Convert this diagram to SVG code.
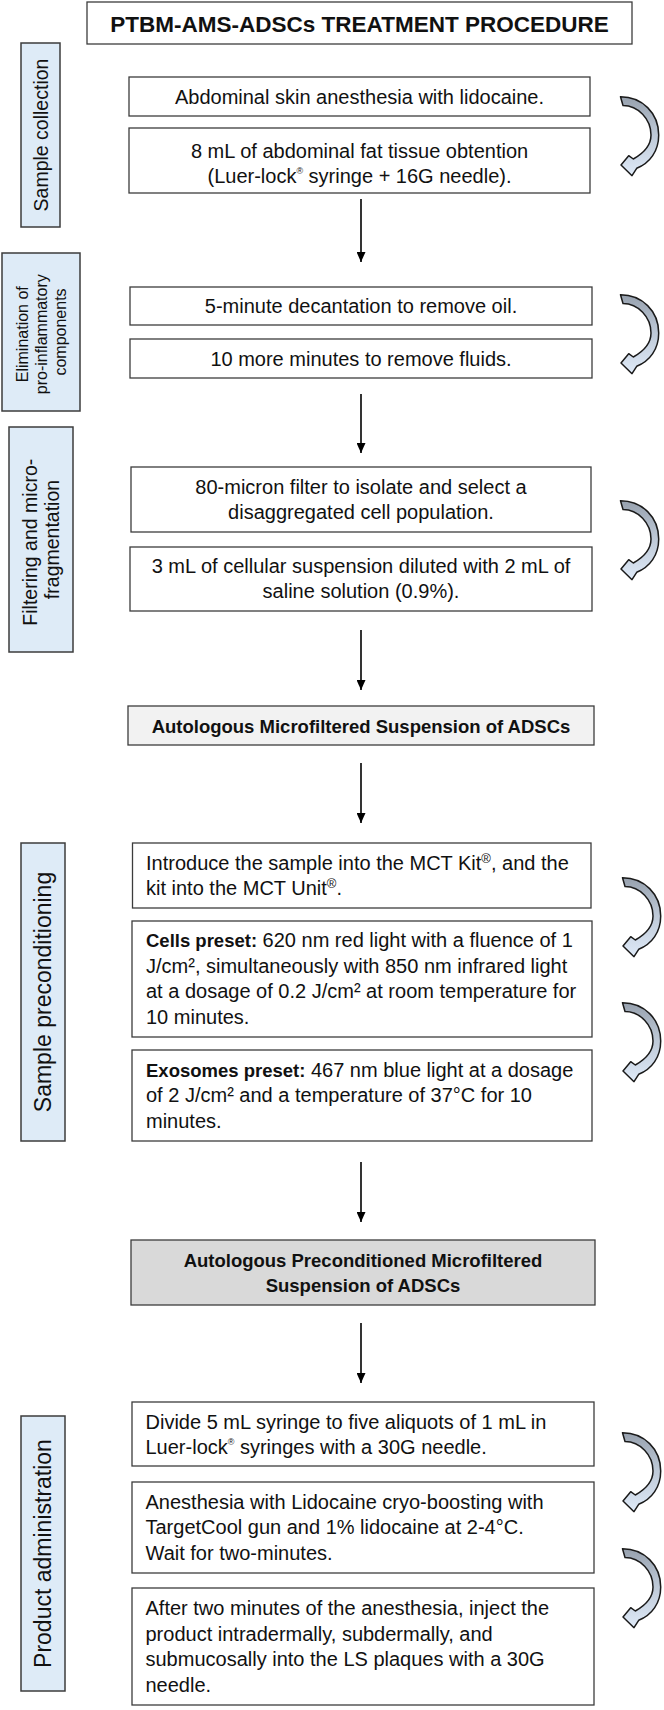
<svg xmlns="http://www.w3.org/2000/svg" width="664" height="1710" viewBox="0 0 664 1710">
<style>
  .bg{fill:#ffffff}
  .box{fill:#ffffff;stroke:#3c3c3c;stroke-width:1.3}
  .lbl{fill:#deebf7;stroke:#3c3c3c;stroke-width:1.5}
  .g1{fill:#f2f2f2;stroke:#3c3c3c;stroke-width:1.3}
  .g2{fill:#d9d9d9;stroke:#3c3c3c;stroke-width:1.3}
  text{font-family:"Liberation Sans",Arial,sans-serif;fill:#111111}
  .t{font-size:20px}
  .c{text-anchor:middle}
  .b{font-weight:bold}
  .bb{font-weight:bold;font-size:18.5px}
  .title{font-size:22.5px;font-weight:bold;text-anchor:middle}
  .lt{text-anchor:middle}
  .conn line{stroke:#000000;stroke-width:1.6;fill:none}
  .curve{fill:url(#cg);stroke:#1a1a1a;stroke-width:1.5;stroke-linejoin:round}
</style>
<defs>
  <marker id="ah" markerUnits="userSpaceOnUse" markerWidth="10" markerHeight="9" refX="10" refY="4.5" orient="auto">
    <path d="M0,0 L10,4.5 L0,9 Z" fill="#000000"/>
  </marker>
  <linearGradient id="cg" x1="0" y1="0" x2="0" y2="1">
    <stop offset="0" stop-color="#97a1ae"/>
    <stop offset="0.45" stop-color="#bcc7d5"/>
    <stop offset="1" stop-color="#dfeaf8"/>
  </linearGradient>
  <path id="carrow" class="curve" d="M 0.5,1.7 C 22,1.7 38.7,18 38.7,40 C 38.7,56 30,68 16.7,73.3 L 12,80.7 L 1,70 L 8.7,60.7 L 13.3,64 C 24,58 31,50 31,40 C 31,24 18,10.5 3,10.5 Z"/>
</defs>
<rect class="bg" x="0" y="0" width="664" height="1710"/>

<g id="title">
  <rect class="box" x="87" y="2" width="545" height="42"/>
  <text class="title" x="359.5" y="31.5">PTBM-AMS-ADSCs TREATMENT PROCEDURE</text>
</g>

<g id="label-sample-collection">
  <rect class="lbl" x="21" y="43" width="39" height="184"/>
  <text class="lt" font-size="19.5" transform="translate(40.5,135) rotate(-90)" x="0" y="7">Sample collection</text>
</g>
<g id="label-elimination">
  <rect class="lbl" x="2" y="253" width="78" height="158"/>
  <text class="lt" font-size="16" transform="translate(41,332) rotate(-90)">
    <tspan x="0" y="-13.3">Elimination of</tspan>
    <tspan x="0" y="5.7">pro-inflammatory</tspan>
    <tspan x="0" y="24.7">components</tspan>
  </text>
</g>
<g id="label-filtering">
  <rect class="lbl" x="9" y="427" width="64" height="225"/>
  <text class="lt" font-size="19.5" transform="translate(41,539.5) rotate(-90)">
    <tspan x="0" y="-4.3">Filtering and micro-</tspan>
    <tspan x="0" y="18.2">fragmentation</tspan>
  </text>
</g>
<g id="label-preconditioning">
  <rect class="lbl" x="21" y="843" width="44" height="298"/>
  <text class="lt" font-size="23" transform="translate(43,992) rotate(-90)" x="0" y="8.2">Sample preconditioning</text>
</g>
<g id="label-administration">
  <rect class="lbl" x="21" y="1416" width="44" height="275"/>
  <text class="lt" font-size="23" transform="translate(43,1553.5) rotate(-90)" x="0" y="8.2">Product administration</text>
</g>

<g id="step-a1">
  <rect class="box" x="129" y="77" width="461" height="39"/>
  <text class="t c" x="359.5" y="104">Abdominal skin anesthesia with lidocaine.</text>
</g>
<g id="step-a2">
  <rect class="box" x="129" y="128" width="461" height="65"/>
  <text class="t c" x="359.5" y="157.5">8 mL of abdominal fat tissue obtention</text>
  <text class="t c" x="359.5" y="183">(Luer-lock<tspan font-size="9" dy="-9">®</tspan><tspan dy="9"> syringe + 16G needle).</tspan></text>
</g>
<g id="step-b1">
  <rect class="box" x="130" y="287" width="462" height="38"/>
  <text class="t c" x="361" y="313">5-minute decantation to remove oil.</text>
</g>
<g id="step-b2">
  <rect class="box" x="130" y="339" width="462" height="39"/>
  <text class="t c" x="361" y="365.5">10 more minutes to remove fluids.</text>
</g>
<g id="step-c1">
  <rect class="box" x="131" y="467" width="460" height="65"/>
  <text class="t c" x="361" y="493.5">80-micron filter to isolate and select a</text>
  <text class="t c" x="361" y="519">disaggregated cell population.</text>
</g>
<g id="step-c2">
  <rect class="box" x="130" y="547" width="462" height="64"/>
  <text class="t c" x="361" y="572.5">3 mL of cellular suspension diluted with 2 mL of</text>
  <text class="t c" x="361" y="598">saline solution (0.9%).</text>
</g>
<g id="result-amsadscs">
  <rect class="g1" x="128" y="706" width="466" height="39"/>
  <text class="bb c" x="361" y="732.5">Autologous Microfiltered Suspension of ADSCs</text>
</g>
<g id="step-e1">
  <rect class="box" x="132.5" y="843" width="458.5" height="65"/>
  <text class="t" x="146" y="870">Introduce the sample into the MCT Kit<tspan font-size="13" dy="-7">®</tspan><tspan dy="7">, and the</tspan></text>
  <text class="t" x="146" y="895">kit into the MCT Unit<tspan font-size="13" dy="-7">®</tspan><tspan dy="7">.</tspan></text>
</g>
<g id="step-e2">
  <rect class="box" x="132" y="921" width="460" height="116"/>
  <text class="t" x="146" y="947"><tspan class="b" font-size="18.5">Cells preset:</tspan> 620 nm red light with a fluence of 1</text>
  <text class="t" x="146" y="972.5">J/cm², simultaneously with 850 nm infrared light</text>
  <text class="t" x="146" y="998">at a dosage of 0.2 J/cm² at room temperature for</text>
  <text class="t" x="146" y="1023.5">10 minutes.</text>
</g>
<g id="step-e3">
  <rect class="box" x="132" y="1050" width="460" height="91"/>
  <text class="t" x="146" y="1076.5"><tspan class="b" font-size="18.5">Exosomes preset:</tspan> 467 nm blue light at a dosage</text>
  <text class="t" x="146" y="1102">of 2 J/cm² and a temperature of 37°C for 10</text>
  <text class="t" x="146" y="1127.5">minutes.</text>
</g>
<g id="result-apmsadscs">
  <rect class="g2" x="131" y="1240" width="464" height="65"/>
  <text class="bb c" x="363" y="1266.5">Autologous Preconditioned Microfiltered</text>
  <text class="bb c" x="363" y="1292">Suspension of ADSCs</text>
</g>
<g id="step-g1">
  <rect class="box" x="132" y="1402" width="462" height="64"/>
  <text class="t" x="145.5" y="1428.5">Divide 5 mL syringe to five aliquots of 1 mL in</text>
  <text class="t" x="145.5" y="1453.5">Luer-lock<tspan font-size="9" dy="-9">®</tspan><tspan dy="9"> syringes with a 30G needle.</tspan></text>
</g>
<g id="step-g2">
  <rect class="box" x="132" y="1482" width="462" height="91"/>
  <text class="t" x="145.5" y="1508.5">Anesthesia with Lidocaine cryo-boosting with</text>
  <text class="t" x="145.5" y="1533.5">TargetCool gun and 1% lidocaine at 2-4°C.</text>
  <text class="t" x="145.5" y="1559.5">Wait for two-minutes.</text>
</g>
<g id="step-g3">
  <rect class="box" x="132" y="1588" width="462" height="117"/>
  <text class="t" x="145.5" y="1615">After two minutes of the anesthesia, inject the</text>
  <text class="t" x="145.5" y="1640.5">product intradermally, subdermally, and</text>
  <text class="t" x="145.5" y="1666">submucosally into the LS plaques with a 30G</text>
  <text class="t" x="145.5" y="1691.5">needle.</text>
</g>

<g id="connectors" class="conn">
  <line x1="361" y1="199" x2="361" y2="262" marker-end="url(#ah)"/>
  <line x1="361" y1="394" x2="361" y2="453" marker-end="url(#ah)"/>
  <line x1="361" y1="630" x2="361" y2="690" marker-end="url(#ah)"/>
  <line x1="361" y1="763" x2="361" y2="823" marker-end="url(#ah)"/>
  <line x1="361" y1="1162" x2="361" y2="1222" marker-end="url(#ah)"/>
  <line x1="361" y1="1323" x2="361" y2="1383" marker-end="url(#ah)"/>
  <use href="#carrow" x="620" y="95"/>
  <use href="#carrow" x="620" y="293"/>
  <use href="#carrow" x="620" y="499"/>
  <use href="#carrow" x="622" y="876"/>
  <use href="#carrow" x="622" y="1001"/>
  <use href="#carrow" x="622" y="1431"/>
  <use href="#carrow" x="622" y="1547"/>
</g>
</svg>
